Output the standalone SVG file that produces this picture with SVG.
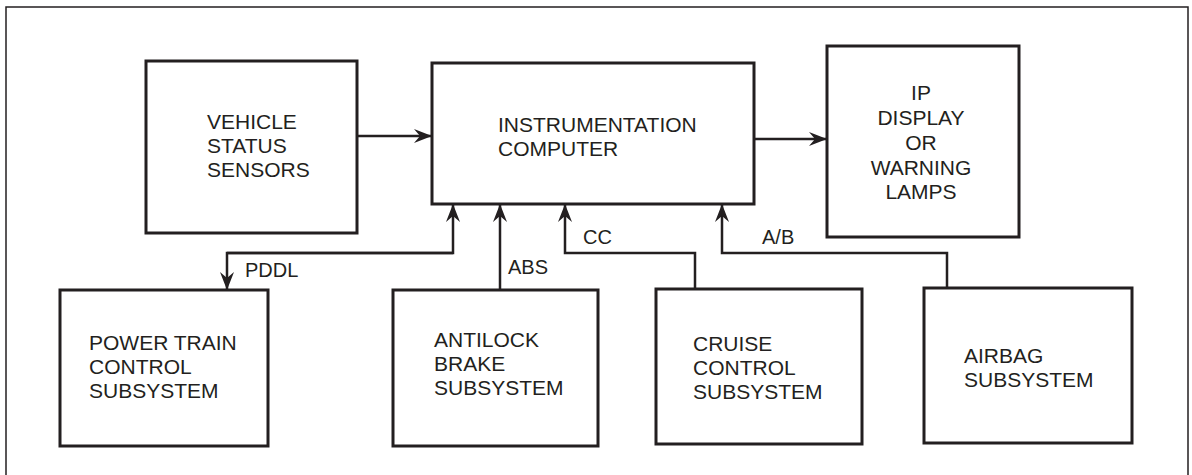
<svg xmlns="http://www.w3.org/2000/svg" width="1192" height="475" viewBox="0 0 1192 475">
<style>
.box{fill:#fff;stroke:#231f20;stroke-width:3}
.frame{fill:none;stroke:#231f20;stroke-width:1.5}
.conn{fill:none;stroke:#231f20;stroke-width:2.5}
text{font-family:"Liberation Sans",Arial,sans-serif;font-size:21px;fill:#231f20}
.lbl{font-size:20px}
</style>
<defs>
<marker id="arr" viewBox="0 0 18 14" refX="18" refY="7" markerWidth="18" markerHeight="14" markerUnits="userSpaceOnUse" orient="auto">
<path d="M0,0 L18,7 L0,14 L6,7 z" fill="#231f20"/>
</marker>
</defs>
<path class="frame" d="M6,476 L6,7 L1188,7 L1188,476"/>
<g id="vss">
<rect class="box" x="146" y="61" width="211" height="172"/>
<text x="207" y="129">VEHICLE</text>
<text x="207" y="153">STATUS</text>
<text x="207" y="177">SENSORS</text>
</g>
<g id="ic">
<rect class="box" x="432" y="63" width="322" height="141"/>
<text x="498" y="132">INSTRUMENTATION</text>
<text x="498" y="156">COMPUTER</text>
</g>
<g id="ip">
<rect class="box" x="827" y="46" width="192" height="191"/>
<text x="921" y="100" text-anchor="middle">IP</text>
<text x="921" y="125" text-anchor="middle">DISPLAY</text>
<text x="921" y="150" text-anchor="middle">OR</text>
<text x="921" y="175" text-anchor="middle">WARNING</text>
<text x="921" y="199" text-anchor="middle">LAMPS</text>
</g>
<g id="ptc">
<rect class="box" x="60" y="290" width="208" height="156"/>
<text x="89" y="350">POWER TRAIN</text>
<text x="89" y="374">CONTROL</text>
<text x="89" y="398">SUBSYSTEM</text>
</g>
<g id="abs">
<rect class="box" x="393" y="290" width="205" height="156"/>
<text x="434" y="347">ANTILOCK</text>
<text x="434" y="371">BRAKE</text>
<text x="434" y="395">SUBSYSTEM</text>
</g>
<g id="cc">
<rect class="box" x="656" y="289" width="206" height="155"/>
<text x="693" y="351">CRUISE</text>
<text x="693" y="375">CONTROL</text>
<text x="693" y="399">SUBSYSTEM</text>
</g>
<g id="ab">
<rect class="box" x="924" y="288" width="208" height="155"/>
<text x="964" y="363">AIRBAG</text>
<text x="964" y="387">SUBSYSTEM</text>
</g>
<g id="connectors">
<path class="conn" d="M357,136 L432,136" marker-end="url(#arr)"/>
<path class="conn" d="M754,139 L827,139" marker-end="url(#arr)"/>
<path class="conn" d="M227,253 L453,253 L453,204" marker-end="url(#arr)"/>
<path class="conn" d="M453,253 L227,253 L227,290" marker-end="url(#arr)"/>
<path class="conn" d="M500,290 L500,204" marker-end="url(#arr)"/>
<path class="conn" d="M695,289 L695,253 L565,253 L565,204" marker-end="url(#arr)"/>
<path class="conn" d="M947,288 L947,253 L722,253 L722,204" marker-end="url(#arr)"/>
<text class="lbl" x="245" y="277">PDDL</text>
<text class="lbl" x="508" y="274">ABS</text>
<text class="lbl" x="583" y="244">CC</text>
<text class="lbl" x="762" y="244">A/B</text>
</g>
</svg>
